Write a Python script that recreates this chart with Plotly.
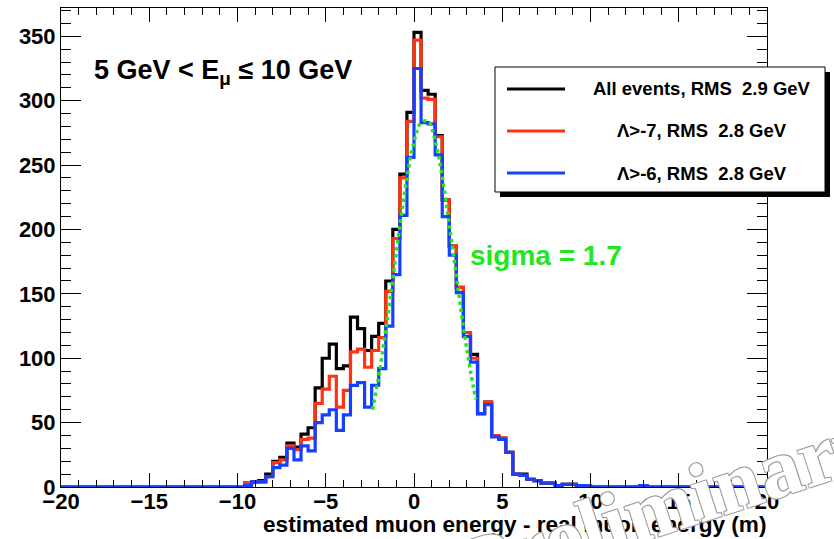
import numpy as np
import plotly.graph_objects as go

# ---------------- data ----------------
x_min, x_max, n_bins = -20.0, 20.0, 100          # histogram binning (0.4 wide bins)
core_first_edge = -10.0                           # lower edge of first listed bin

# counts for bins from -10.0 to +10.0 (lower edges -10.0, -9.6, ..., 9.6)
counts_all = [0, 3, 4, 5, 10, 20, 23, 34, 31, 41,
              46, 77, 100, 111, 92, 94, 132, 123, 106, 117,
              127, 160, 200, 243, 291, 353, 308, 305, 273, 223,
              187, 155, 120, 103, 57, 66, 40, 38, 27, 10,
              10, 6, 5, 3, 3, 1, 2, 2, 1, 1]
counts_lam7 = [0, 3, 4, 4, 8, 19, 21, 32, 29, 37,
               38, 65, 76, 86, 62, 75, 105, 107, 93, 106,
               116, 152, 193, 240, 284, 347, 302, 301, 272, 223,
               187, 155, 120, 100, 57, 66, 40, 38, 27, 10,
               9, 6, 5, 3, 3, 1, 2, 2, 1, 1]
counts_lam6 = [0, 1, 4, 4, 8, 15, 17, 30, 21, 32,
               28, 50, 56, 60, 44, 56, 79, 81, 62, 79,
               92, 125, 165, 211, 256, 325, 283, 282, 258, 210,
               180, 151, 117, 97, 57, 64, 39, 37, 27, 10,
               9, 6, 5, 3, 3, 1, 2, 2, 1, 1]
# isolated entries in the far right tail (lower bin edge -> count)
tail_edges = [12.8, 16.0, 17.6]
tail_all = [1, 1, 1]
tail_lam7 = [1, 1, 1]
tail_lam6 = [1, 1, 0]

# gaussian fit curve
fit_x = [-2.35, -2.0, -1.6, -1.2, -0.8, -0.4, 0.0, 0.4, 0.8, 1.2, 1.6, 2.0, 2.4, 2.8, 3.2, 3.5]
fit_y = [60, 86, 122, 162, 203, 240, 268, 283, 284, 269, 241, 204, 164, 124, 90, 68]

legend_labels = ["All events, RMS \u00a02.9 GeV", "\u039b>-7, RMS \u00a02.8 GeV", "\u039b>-6, RMS \u00a02.8 GeV"]
title_text = "5 GeV < E<sub>\u03bc</sub> \u2264 10 GeV"
fit_text = "sigma = 1.7"
x_title = "estimated muon energy - real muon energy (m)"
watermark = "Preliminary"

colors = ["#000000", "#ff3311", "#1540ff"]
fit_color = "#22e622"

# ---------------- build histograms ----------------
edges = np.linspace(x_min, x_max, n_bins + 1)
width = (x_max - x_min) / n_bins


def full_hist(core, tail):
    h = np.zeros(n_bins)
    i0 = int(round((core_first_edge - x_min) / width))
    h[i0:i0 + len(core)] = core
    for e, c in zip(tail_edges, tail):
        h[int(round((e - x_min) / width))] += c
    return h


hists = [full_hist(counts_all, tail_all),
         full_hist(counts_lam7, tail_lam7),
         full_hist(counts_lam6, tail_lam6)]

fig = go.Figure()
for h, c in zip(hists, colors):
    fig.add_trace(go.Scatter(
        x=edges, y=np.append(h, h[-1]), mode="lines",
        line=dict(shape="hv", color=c, width=3.2),
        hoverinfo="skip", showlegend=False))

fig.add_trace(go.Scatter(
    x=fit_x, y=fit_y, mode="lines",
    line=dict(shape="spline", color=fit_color, width=3.5, dash="dot"),
    hoverinfo="skip", showlegend=False))

# ---------------- layout ----------------
W, H = 834, 539
L, R, T, B = 61, 67, 8, 52
pw, ph = W - L - R, H - T - B


def px(xp):
    return (xp - L) / pw


def py(yp):
    return (H - B - yp) / ph


axis_font = dict(family="Liberation Sans, Arial, sans-serif", size=22, color="#000", weight="bold")

fig.update_layout(
    width=W, height=H,
    margin=dict(l=L, r=R, t=T, b=B, pad=0),
    paper_bgcolor="white", plot_bgcolor="white",
    font=dict(family="Liberation Sans, Arial, sans-serif", color="#000"),
    xaxis=dict(range=[x_min, x_max], dtick=5, tick0=0, ticks="inside", ticklen=14,
               tickwidth=1, tickcolor="#000", showline=True, linecolor="#000",
               linewidth=1, mirror="ticks", showgrid=False, zeroline=False,
               tickfont=axis_font, ticklabelstandoff=-5,
               minor=dict(dtick=1, ticks="inside", ticklen=7, tickcolor="#000", showgrid=False)),
    yaxis=dict(range=[0, 372], dtick=50, tick0=0, ticks="inside", ticklen=20,
               tickwidth=1, tickcolor="#000", showline=True, linecolor="#000",
               linewidth=1, mirror="ticks", showgrid=False, zeroline=False,
               tickfont=axis_font,
               minor=dict(dtick=10, ticks="inside", ticklen=10, tickcolor="#000", showgrid=False)),
)

shapes = []
annots = []

# legend box with shadow
lx0, lx1, ly0, ly1 = 495, 825, 67, 192
shapes.append(dict(type="rect", xref="paper", yref="paper",
                   x0=px(lx0 + 5), x1=px(lx1 + 5), y0=py(ly1 + 5), y1=py(ly0 + 5),
                   fillcolor="#000", line=dict(width=0), layer="above"))
shapes.append(dict(type="rect", xref="paper", yref="paper",
                   x0=px(lx0), x1=px(lx1), y0=py(ly1), y1=py(ly0),
                   fillcolor="white", line=dict(color="#000", width=1), layer="above"))
for k, (lab, c) in enumerate(zip(legend_labels, colors)):
    yy = 89 + 42 * k
    shapes.append(dict(type="line", xref="paper", yref="paper",
                       x0=px(507), x1=px(565), y0=py(yy), y1=py(yy),
                       line=dict(color=c, width=3.2), layer="above"))
    annots.append(dict(xref="paper", yref="paper", x=px(702), y=py(yy),
                       text=lab, showarrow=False, xanchor="center", yanchor="middle",
                       font=dict(size=18.5, color="#000", weight="bold")))

annots.append(dict(xref="paper", yref="paper", x=px(92), y=py(72), text=title_text,
                   showarrow=False, xanchor="left", yanchor="middle",
                   font=dict(size=27, color="#000", weight="bold")))
annots.append(dict(xref="paper", yref="paper", x=px(468), y=py(255), text=fit_text,
                   showarrow=False, xanchor="left", yanchor="middle",
                   font=dict(size=28, color=fit_color, weight="bold")))
annots.append(dict(xref="paper", yref="paper", x=px(261), y=py(524), text=x_title,
                   showarrow=False, xanchor="left", yanchor="middle",
                   font=dict(size=22.6, color="#000", weight="bold")))
annots.append(dict(xref="paper", yref="paper", x=px(668), y=py(503), text=watermark,
                   showarrow=False, xanchor="center", yanchor="middle", textangle=-18,
                   font=dict(family="Liberation Serif, serif", size=84, color="white",
                             weight="bold",
                             shadow="1px 1px 0 #a0a0a0, -1px -1px 0 #a0a0a0, 1px -1px 0 #a0a0a0, -1px 1px 0 #a0a0a0")))

fig.update_layout(shapes=shapes, annotations=annots)
fig.write_html("out.html")
